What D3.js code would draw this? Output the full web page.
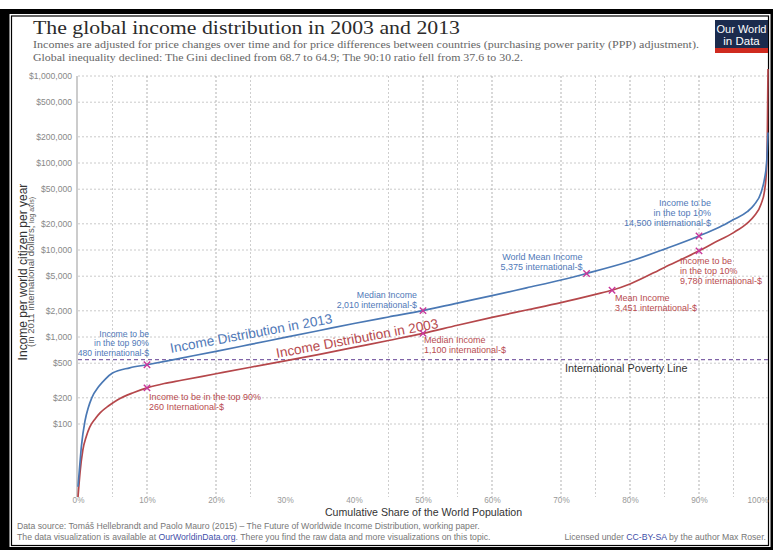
<!DOCTYPE html>
<html><head><meta charset="utf-8">
<script src="https://cdn.jsdelivr.net/npm/d3@7"></script>
<style>
body{margin:0;background:#fff;}
svg{display:block;}
text{font-family:"Liberation Sans",Arial,sans-serif;}
</style></head><body>
<svg id="c" width="773" height="550"></svg>
<script>
// ---------- DATA ----------
const yTickValues = [100,200,500,1000,2000,5000,10000,20000,50000,100000,200000,500000,1000000];
const xTickValues = [0,10,20,30,40,50,60,70,80,90,100];
const xGridValues = [5,10,20,25,45,50,55,60,70,75,80,85,90,95];

const pct2013 = [0,0.25,0.5,1,1.5,2,3,4,5,7.5,10,15,20,25,30,35,40,45,50,55,60,65,70,73.7,80,85,90,93,95,97,98,99,99.5,99.8,99.9,100];
const inc2013 = [19,33,56,107,155,200,269,331,385,442,480,573,684,822,989,1189,1429,1698,2010,2455,2985,3673,4519,5375,7413,10233,14500,18408,22387,27542,33113,45709,66069,100000,141254,223872];

const pct2003 = [0,0.3,0.7,1.2,1.7,2.5,3.2,4.5,5.7,8,10,12.5,15,20,25,30,35,40,45,50,55,60,65,70,75,77.4,80,85,90,92,95,97,98,99,99.5,99.8,99.9,100];
const inc2003 = [14.5,28,50,72,92,115,134,163,189,229,260,292,318,378,449,532,631,759,912,1100,1365,1679,2042,2483,3090,3451,4074,6310,9780,11885,15849,20417,24547,33884,47863,89125,199526,1200000];

const povertyLine = 550;

const marks2013Pct = [10,50,73.7,90];
const marks2013Val = [480,2010,5375,14500];
const marks2013Text = [
  ["Income to be","in the top 90%","480 international-$"],
  ["Median Income","2,010 international-$"],
  ["World Mean Income","5,375 international-$"],
  ["Income to be","in the top 10%","14,500 international-$"]
];
const marks2003Pct = [10,50,77.4,90];
const marks2003Val = [260,1100,3451,9780];
const marks2003Text = [
  ["Income to be in the top 90%","260 International-$"],
  ["Median Income","1,100 international-$"],
  ["Mean Income","3,451 international-$"],
  ["Income to be","in the top 10%","9,780 international-$"]
];

// ---------- STYLE ----------
const BLUE = "#4a78b4", RED = "#b5474b", MAG = "#c8379a";
const BLUE_T = "#5079b8", RED_T = "#b84b4f";

const svg = d3.select("#c");

// frame
svg.append("rect").attr("x",0).attr("y",9).attr("width",773).attr("height",541).attr("fill","#000");
svg.append("rect").attr("x",9.5).attr("y",14).attr("width",761).attr("height",533).attr("fill","#fff");
svg.append("rect").attr("x",11.5).attr("y",16).attr("width",757).attr("height",529.5)
  .attr("fill","none").attr("stroke","#000").attr("stroke-width",1.2);

// scales
const x = d3.scaleLinear().domain([0,100]).range([78,768]);
const y = d3.scaleLog().domain([100,1000000]).range([424,76]);
const plotBottom = 497;

// title
svg.append("text").attr("x",33).attr("y",34)
  .style("font-family","'Liberation Serif','DejaVu Serif',serif").style("font-size","19.5px").attr("fill","#2b2b2b")
  .attr("textLength",427).attr("lengthAdjust","spacingAndGlyphs")
  .text("The global income distribution in 2003 and 2013");
svg.append("text").attr("x",33).attr("y",48)
  .style("font-family","'Liberation Serif','DejaVu Serif',serif").style("font-size","11px").attr("fill","#666")
  .attr("textLength",666).attr("lengthAdjust","spacingAndGlyphs")
  .text("Incomes are adjusted for price changes over time and for price differences between countries (purchasing power parity (PPP) adjustment).");
svg.append("text").attr("x",33).attr("y",61)
  .style("font-family","'Liberation Serif','DejaVu Serif',serif").style("font-size","11px").attr("fill","#666")
  .attr("textLength",490).attr("lengthAdjust","spacingAndGlyphs")
  .text("Global inequality declined: The Gini declined from 68.7 to 64.9; The 90:10 ratio fell from 37.6 to 30.2.");

// logo
svg.append("rect").attr("x",715).attr("y",20).attr("width",53).attr("height",33).attr("fill","#1b2b4d");
svg.append("rect").attr("x",715).attr("y",48).attr("width",53).attr("height",5).attr("fill","#cf2a1f");
svg.append("text").attr("x",741.5).attr("y",33).attr("text-anchor","middle").attr("fill","#fff")
  .style("font-size","11.5px").attr("textLength",50).attr("lengthAdjust","spacingAndGlyphs").text("Our World");
svg.append("text").attr("x",741.5).attr("y",45).attr("text-anchor","middle").attr("fill","#fff")
  .style("font-size","11.5px").text("in Data");

// grid
const g = svg.append("g");
g.selectAll("line.hg").data(yTickValues).join("line").attr("class","hg")
  .attr("x1",78).attr("x2",768).attr("y1",d=>y(d)).attr("y2",d=>y(d))
  .attr("stroke","#c4c4c4").attr("stroke-width",0.9).attr("stroke-dasharray","2,2");
g.selectAll("line.vg").data(xGridValues).join("line").attr("class","vg")
  .attr("x1",d=>x(d)).attr("x2",d=>x(d)).attr("y1",76).attr("y2",plotBottom)
  .attr("stroke",d=>d%10===0?"#a8a8a8":"#c8c8c8").attr("stroke-width",0.9).attr("stroke-dasharray","2,2");

// y axis
const yAxis = d3.axisLeft(y).tickValues(yTickValues).tickSize(0).tickPadding(5)
  .tickFormat(d=>"$"+d3.format(",")(d));
const ya = svg.append("g").attr("transform","translate(77,0)").call(yAxis);
ya.select(".domain").remove();
ya.selectAll("text").attr("fill","#888").style("font-size","8.6px").style("font-family","'Liberation Sans',Arial,sans-serif");
svg.append("line").attr("x1",77).attr("x2",77).attr("y1",76).attr("y2",plotBottom).attr("stroke","#999").attr("stroke-width",1);

// x axis
const xAxis = d3.axisBottom(x).tickValues(xTickValues).tickSize(0).tickPadding(0).tickFormat(d=>d+"%");
const xa = svg.append("g").attr("transform",`translate(0,${plotBottom})`).call(xAxis);
xa.select(".domain").remove();
xa.selectAll("text").attr("fill","#999").style("font-size","8.2px").style("font-family","'Liberation Sans',Arial,sans-serif");
xa.selectAll(".tick").filter(d=>d===100).select("text").attr("text-anchor","end").attr("dx",0);

// axis titles
svg.append("text").attr("x",423.5).attr("y",516).attr("text-anchor","middle").attr("fill","#333")
  .style("font-size","10.6px").text("Cumulative Share of the World Population");
svg.append("text").attr("transform","translate(27,272) rotate(-90)").attr("text-anchor","middle").attr("fill","#333")
  .style("font-size","12px").text("Income per world citizen per year");
const yt2 = svg.append("text").attr("transform","translate(34,272) rotate(-90)").attr("text-anchor","middle").attr("fill","#555");
yt2.append("tspan").style("font-size","9.5px").text("(in 2011 international dollars; ");
yt2.append("tspan").style("font-size","7px").text("log axis)");

// poverty line
svg.append("line").attr("x1",78).attr("x2",768).attr("y1",y(povertyLine)).attr("y2",y(povertyLine))
  .attr("stroke","#8064a8").attr("stroke-width",1.1).attr("stroke-dasharray","4,3");
svg.append("text").attr("x",565).attr("y",372).attr("fill","#333").style("font-size","10.8px").text("International Poverty Line");

// curves
const line = d3.line().x(d=>x(d[0])).y(d=>y(d[1])).curve(d3.curveMonotoneX);
svg.append("path").datum(d3.zip(pct2003,inc2003)).attr("d",line).attr("fill","none").attr("stroke",RED).attr("stroke-width",1.7);
svg.append("path").datum(d3.zip(pct2013,inc2013)).attr("d",line).attr("fill","none").attr("stroke",BLUE).attr("stroke-width",1.7);

// curve labels
svg.append("text").attr("transform","translate(171,353) rotate(-10.5)").attr("fill",BLUE_T)
  .style("font-size","13.6px").text("Income Distribution in 2013");
svg.append("text").attr("transform","translate(277,358) rotate(-10.5)").attr("fill",RED_T)
  .style("font-size","13.6px").text("Income Distribution in 2003");

// markers
function mark(px,py){
  const s=3.2;
  svg.append("path").attr("d",`M${px-s},${py-s}L${px+s},${py+s}M${px-s},${py+s}L${px+s},${py-s}`)
    .attr("stroke",MAG).attr("stroke-width",1.4);
}
// annotation layout (offsets relative to marker)
const lay2013 = [
  {dx:2, dy:-28.1, lh:9.7, anchor:"end", fs:8.6},
  {dx:-6, dy:-13, lh:9.9, anchor:"end", fs:8.8},
  {dx:-4, dy:-13, lh:10, anchor:"end", fs:9},
  {dx:12, dy:-29.8, lh:10, anchor:"end", fs:9}
];
const lay2003 = [
  {dx:2, dy:12.2, lh:10, anchor:"start", fs:9},
  {dx:1, dy:9.6, lh:10, anchor:"start", fs:9},
  {dx:3, dy:10.6, lh:10, anchor:"start", fs:9},
  {dx:-19, dy:12.7, lh:10, anchor:"start", fs:9}
];
function annotate(pcts, vals, texts, lay, color){
  pcts.forEach((p,i)=>{
    const px=x(p), py=y(vals[i]);
    mark(px,py);
    const L=lay[i];
    const t=svg.append("text").attr("text-anchor",L.anchor).attr("fill",color).style("font-size",L.fs+"px");
    texts[i].forEach((s,j)=>{
      t.append("tspan").attr("x",px+L.dx).attr("y",py+L.dy+j*L.lh).text(s);
    });
  });
}
annotate(marks2013Pct, marks2013Val, marks2013Text, lay2013, BLUE_T);
annotate(marks2003Pct, marks2003Val, marks2003Text, lay2003, RED_T);

// footer
svg.append("text").attr("x",17).attr("y",529).attr("fill","#777").style("font-size","8.7px")
  .text("Data source: Tomáš Hellebrandt and Paolo Mauro (2015) – The Future of Worldwide Income Distribution, working paper.");
const f2 = svg.append("text").attr("x",17).attr("y",540).attr("fill","#777").style("font-size","8.7px");
f2.append("tspan").text("The data visualization is available at ");
f2.append("tspan").attr("fill","#3f4fa8").text("OurWorldinData.org");
f2.append("tspan").text(". There you find the raw data and more visualizations on this topic.");
const f3 = svg.append("text").attr("x",766).attr("y",540).attr("text-anchor","end").attr("fill","#777").style("font-size","8.7px");
f3.append("tspan").text("Licensed under ");
f3.append("tspan").attr("fill","#3f4fa8").text("CC-BY-SA");
f3.append("tspan").text(" by the author Max Roser.");
</script>
</body></html>
